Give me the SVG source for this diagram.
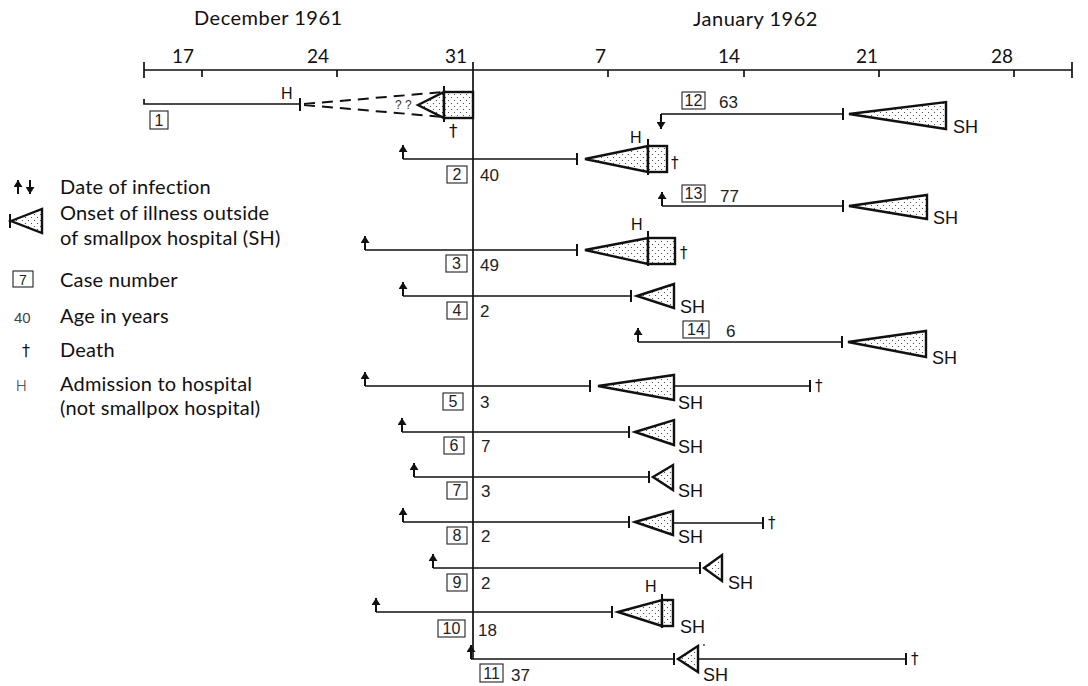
<svg xmlns="http://www.w3.org/2000/svg" width="1088" height="686" viewBox="0 0 1088 686">
<defs>
<style>
.ln{stroke:#111;stroke-width:1.7;fill:none}
.tk{stroke:#111;stroke-width:2;fill:none}
.tri{fill:url(#dots);stroke:#111;stroke-width:2.4;stroke-linejoin:miter}
.arr{stroke:#111;stroke-width:2;fill:none;marker-end:url(#ah)}
.dash{stroke:#111;stroke-width:2;fill:none;stroke-dasharray:11 7}
.box{fill:none;stroke:#222;stroke-width:1.1}
.num{font-family:"Liberation Sans",Arial,sans-serif;font-size:16px;fill:#222;text-anchor:middle}
.age{font-family:"Liberation Sans",Arial,sans-serif;font-size:17px;fill:#222}
.sh{font-family:"Liberation Sans",Arial,sans-serif;font-size:18px;fill:#111}
.h{font-family:"Liberation Sans",Arial,sans-serif;font-size:16px;fill:#111}
.dg{font-family:"DejaVu Sans",sans-serif;font-size:15px;fill:#111}
.lg{font-family:Lato,"Liberation Sans",sans-serif;font-size:20px;fill:#111;letter-spacing:0.2px}
.ax{font-family:Lato,"Liberation Sans",sans-serif;font-size:19px;fill:#111;text-anchor:end}
.hd{font-family:Lato,"Liberation Sans",sans-serif;font-size:20px;fill:#111;letter-spacing:0.5px}
</style>
<pattern id="dots" width="6" height="6" patternUnits="userSpaceOnUse">
<rect width="6" height="6" fill="#fff"/>
<circle cx="1.5" cy="1.5" r="0.6" fill="#333"/>
<circle cx="4.5" cy="4.5" r="0.6" fill="#333"/>
</pattern>
<marker id="ah" viewBox="0 0 8 8" refX="8" refY="4" markerWidth="7" markerHeight="9" markerUnits="userSpaceOnUse" orient="auto" preserveAspectRatio="none">
<path d="M0,0 L8,4 L0,8 z" fill="#111"/>
</marker>
</defs>
<rect width="1088" height="686" fill="#fff"/>

<g id="axis">
<text class="hd" x="194" y="25">December 1961</text>
<text class="hd" x="693" y="26">January 1962</text>
<path class="ln" d="M144,70 L1072,70 M144,62 V78 M1072,62 V78 M202,70 V77 M337,70 V77 M608,70 V77 M744,70 V77 M879,70 V77 M1014,70 V77"/>
<path class="ln" d="M473,62 V659"/>
<text class="ax" x="194" y="63">17</text>
<text class="ax" x="329" y="63">24</text>
<text class="ax" x="467" y="63">31</text>
<text class="ax" x="606" y="63">7</text>
<text class="ax" x="740" y="63">14</text>
<text class="ax" x="878" y="63">21</text>
<text class="ax" x="1013" y="63">28</text>
</g>

<g id="legend">
<path class="arr" d="M18,194 L18,180"/>
<path class="arr" d="M30,180 L30,194"/>
<text class="lg" x="60" y="194">Date of infection</text>
<path class="tk" d="M10,214 V228"/>
<polygon class="tri" points="11,221 42,209 42,233"/>
<text class="lg" x="60" y="220">Onset of illness outside</text>
<text class="lg" x="60" y="245">of smallpox hospital (SH)</text>
<rect class="box" x="13" y="271" width="20" height="16"/>
<text class="num" x="23" y="285" style="font-size:14px">7</text>
<text class="lg" x="60" y="287">Case number</text>
<text class="age" x="14" y="323" style="font-size:15px;fill:#444">40</text>
<text class="lg" x="60" y="323">Age in years</text>
<text class="dg" x="22" y="356" style="font-size:16px">†</text>
<text class="lg" x="60" y="357">Death</text>
<text x="16" y="391" style="font-family:Roboto,'Liberation Sans',sans-serif;font-weight:300;font-size:15px;fill:#333">H</text>
<text class="lg" x="60" y="391">Admission to hospital</text>
<text class="lg" x="60" y="415">(not smallpox hospital)</text>
</g>

<g id="case-1">
<path class="ln" d="M144,99 L144,104 L300,104"/>
<path class="tk" d="M300,98 V111"/>
<text class="h" x="281" y="99">H</text>
<path class="dash" d="M304,104 L444,92 M304,105 L444,117"/>
<text x="395" y="109" style="font-family:'Liberation Sans',sans-serif;font-size:12px;fill:#333">? ?</text>
<polygon class="tri" points="418,105 444,92 444,118"/>
<rect class="tri" x="444" y="92" width="29" height="26"/>
<path class="tk" d="M444,86 V122"/>
<text class="dg" x="449" y="137" style="font-size:17px">†</text>
<rect class="box" x="150" y="111" width="18" height="18"/>
<text class="num" x="159" y="126">1</text>
</g>

<g id="case-12">
<path class="arr" d="M661,114 L661,129"/>
<path class="ln" d="M661,114 L843,114"/>
<path class="tk" d="M843,108 V120"/>
<polygon class="tri" points="849,114 946,102 946,129"/>
<rect class="box" x="682" y="92" width="23" height="17"/>
<text class="num" x="693.5" y="106">12</text>
<text class="age" x="719" y="108">63</text>
<text class="sh" x="953" y="133">SH</text>
</g>

<g id="case-2">
<path class="arr" d="M403,159 L403,145"/>
<path class="ln" d="M403,159 L577,159"/>
<path class="tk" d="M577,153 V165"/>
<polygon class="tri" points="585,159 648,146 648,172"/>
<rect class="tri" x="648" y="146" width="19" height="26"/>
<path class="tk" d="M648,139 V175"/>
<text class="h" x="630" y="143">H</text>
<text class="dg" x="671" y="168">†</text>
<rect class="box" x="447" y="166" width="20" height="17"/>
<text class="num" x="457" y="180">2</text>
<text class="age" x="480" y="181">40</text>
</g>

<g id="case-13">
<path class="arr" d="M662,206 L662,192"/>
<path class="ln" d="M662,206 L843,206"/>
<path class="tk" d="M843,200 V212"/>
<polygon class="tri" points="849,206 927,195 927,219"/>
<rect class="box" x="682" y="185" width="23" height="17"/>
<text class="num" x="693.5" y="199">13</text>
<text class="age" x="720" y="202">77</text>
<text class="sh" x="933" y="224">SH</text>
</g>

<g id="case-3">
<path class="arr" d="M365,250 L365,236"/>
<path class="ln" d="M365,250 L577,250"/>
<path class="tk" d="M577,244 V256"/>
<polygon class="tri" points="585,250 648,238 648,264"/>
<rect class="tri" x="648" y="238" width="27" height="26"/>
<path class="tk" d="M648,231 V266"/>
<text class="h" x="631" y="230">H</text>
<text class="dg" x="680" y="258">†</text>
<rect class="box" x="446" y="255" width="21" height="17"/>
<text class="num" x="456.5" y="269">3</text>
<text class="age" x="480" y="271">49</text>
</g>

<g id="case-4">
<path class="arr" d="M403,296 L403,282"/>
<path class="ln" d="M403,296 L631,296"/>
<path class="tk" d="M631,290 V302"/>
<polygon class="tri" points="637,296 674,284 674,308"/>
<text class="sh" x="680" y="313">SH</text>
<rect class="box" x="447" y="302" width="20" height="17"/>
<text class="num" x="457" y="316">4</text>
<text class="age" x="480" y="317">2</text>
</g>

<g id="case-14">
<path class="arr" d="M638,342 L638,328"/>
<path class="ln" d="M638,342 L842,342"/>
<path class="tk" d="M842,336 V348"/>
<polygon class="tri" points="848,342 926,331 926,357"/>
<text class="sh" x="932" y="364">SH</text>
<rect class="box" x="683" y="321" width="26" height="17"/>
<text class="num" x="696" y="335">14</text>
<text class="age" x="726" y="337">6</text>
</g>

<g id="case-5">
<path class="arr" d="M365,386 L365,372"/>
<path class="ln" d="M365,386 L590,386"/>
<path class="tk" d="M590,380 V392"/>
<polygon class="tri" points="598,386 674,375 674,400"/>
<path class="ln" d="M674,386 L810,386"/>
<path class="tk" d="M810,380 V392"/>
<text class="dg" x="815" y="391">†</text>
<text class="sh" x="678" y="409">SH</text>
<rect class="box" x="443" y="393" width="20" height="17"/>
<text class="num" x="453" y="407">5</text>
<text class="age" x="480" y="408">3</text>
</g>

<g id="case-6">
<path class="arr" d="M402,432 L402,418"/>
<path class="ln" d="M402,432 L629,432"/>
<path class="tk" d="M629,426 V438"/>
<polygon class="tri" points="635,432 674,420 674,445"/>
<text class="sh" x="678" y="453">SH</text>
<rect class="box" x="444" y="437" width="20" height="17"/>
<text class="num" x="454" y="451">6</text>
<text class="age" x="481" y="452">7</text>
</g>

<g id="case-7">
<path class="arr" d="M414,477 L414,463"/>
<path class="ln" d="M414,477 L649,477"/>
<path class="tk" d="M649,471 V483"/>
<polygon class="tri" points="653,477 673,465 673,490"/>
<text class="sh" x="678" y="497">SH</text>
<rect class="box" x="447" y="482" width="20" height="17"/>
<text class="num" x="457" y="496">7</text>
<text class="age" x="481" y="497">3</text>
</g>

<g id="case-8">
<path class="arr" d="M403,522 L403,508"/>
<path class="ln" d="M403,522 L629,522"/>
<path class="tk" d="M629,516 V528"/>
<polygon class="tri" points="635,522 673,511 673,535"/>
<path class="ln" d="M673,523 L763,523"/>
<path class="tk" d="M763,517 V529"/>
<text class="dg" x="768" y="528">†</text>
<text class="sh" x="678" y="543">SH</text>
<rect class="box" x="447" y="527" width="20" height="17"/>
<text class="num" x="457" y="541">8</text>
<text class="age" x="481" y="542">2</text>
</g>

<g id="case-9">
<path class="arr" d="M433,568 L433,554"/>
<path class="ln" d="M433,568 L700,568"/>
<path class="tk" d="M700,562 V574"/>
<polygon class="tri" points="704,568 722,555 722,581"/>
<text class="sh" x="728" y="589">SH</text>
<rect class="box" x="447" y="574" width="20" height="17"/>
<text class="num" x="457" y="588">9</text>
<text class="age" x="481" y="589">2</text>
</g>

<g id="case-10">
<path class="arr" d="M376,612 L376,598"/>
<path class="ln" d="M376,612 L612,612"/>
<path class="tk" d="M612,606 V618"/>
<polygon class="tri" points="618,612 662,600 662,626"/>
<rect class="tri" x="662" y="600" width="11" height="26"/>
<path class="tk" d="M662,594 V628"/>
<text class="h" x="645" y="592">H</text>
<text class="sh" x="680" y="633">SH</text>
<rect class="box" x="438" y="620" width="27" height="17"/>
<text class="num" x="451.5" y="634">10</text>
<text class="age" x="478" y="636">18</text>
</g>

<g id="case-11">
<path class="arr" d="M471,659 L471,645"/>
<path class="ln" d="M471,659 L674,659"/>
<path class="tk" d="M674,653 V665"/>
<polygon class="tri" points="678,659 698,646 698,672"/>
<path class="ln" d="M698,659 L906,659"/>
<path class="tk" d="M906,653 V665"/>
<text class="dg" x="911" y="664">†</text>
<text class="sh" x="703" y="681">SH</text>
<circle cx="704" cy="645" r="0.9" fill="#333"/>
<rect class="box" x="480" y="664" width="23" height="18"/>
<text class="num" x="491.5" y="679">11</text>
<text class="age" x="511" y="681">37</text>
</g>
</svg>
